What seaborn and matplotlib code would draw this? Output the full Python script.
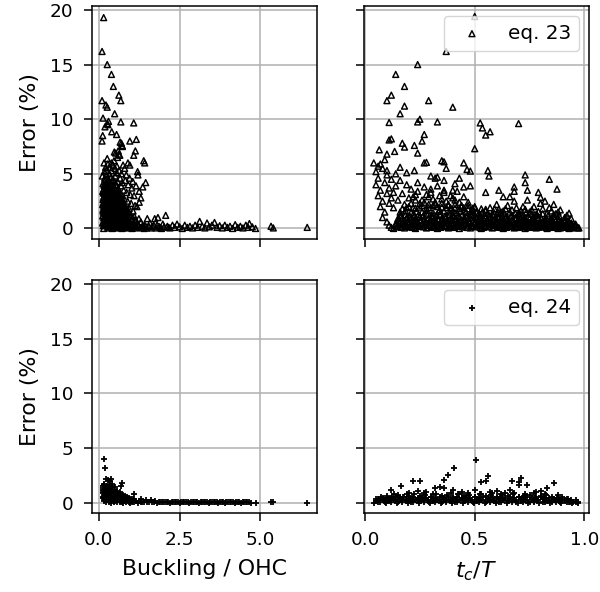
import matplotlib
matplotlib.use("Agg")
import matplotlib.pyplot as plt
import pandas as pd
import seaborn as sns

# Error of eq. 23 vs Buckling / OHC  (x, error %) - outliers and tail
buckling_eq23 = [
    (0.15, 19.3), (0.10, 16.2), (0.26, 15.0), (0.39, 14.1), (0.45, 13.0), (0.62, 12.2),
    (0.68, 11.7), (0.10, 11.7), (0.22, 11.3), (0.26, 11.1), (0.49, 10.5), (0.13, 10.1),
    (0.30, 9.8), (0.28, 9.5), (0.26, 9.6), (0.19, 9.3), (0.68, 9.75), (1.08, 9.66),
    (0.12, 8.5), (0.10, 8.0), (0.40, 8.85), (0.55, 8.6), (0.66, 7.9), (0.70, 7.8),
    (0.72, 7.6), (0.73, 7.5), (0.96, 8.0), (1.16, 8.15), (1.13, 7.1), (1.08, 6.7),
    (0.90, 6.0), (0.96, 5.8), (1.39, 6.2), (1.42, 6.0), (0.48, 7.0), (0.52, 6.9),
    (0.60, 7.1), (0.26, 6.4), (0.39, 6.0), (0.23, 5.3), (0.17, 5.2), (1.20, 5.2),
    (1.45, 4.2), (1.36, 3.8), (1.21, 4.9), (0.62, 6.8), (0.65, 6.7), (0.58, 6.5),
    (0.35, 5.6), (0.44, 5.8), (0.50, 5.5), (0.55, 5.1), (0.80, 5.5), (0.85, 4.9),
    (0.95, 4.6), (1.05, 4.3), (1.15, 3.9), (1.25, 3.4), (1.30, 2.8), (1.25, 2.4), (1.18, 2.0),
    (0.21, 5.6), (0.28, 5.9), (0.33, 5.0), (0.39, 5.3), (0.47, 6.2), (0.56, 5.7),
    (0.63, 5.3), (0.70, 5.0), (0.75, 5.8), (0.16, 6.0),
    (1.35, 0.1), (1.42, 0.3), (1.48, 0.05), (1.55, 0.2), (1.62, 0.05), (1.70, 0.3),
    (1.77, 0.05), (1.86, 0.2), (1.94, 0.0), (2.02, 0.15), (2.16, 0.1),
    (1.50, 0.9), (1.58, 0.5), (1.66, 0.2), (1.73, 0.9), (1.80, 0.3), (1.83, 1.0),
    (1.90, 0.1), (1.98, 0.4), (2.07, 1.2), (2.12, 0.2), (2.20, 0.05), (2.28, 0.3),
    (2.35, 0.1), (2.42, 0.4), (2.50, 0.15), (2.58, 0.0), (2.66, 0.3), (2.74, 0.1),
    (2.82, 0.2), (2.90, 0.05), (2.98, 0.3), (3.06, 0.1), (3.12, 0.65), (3.20, 0.2),
    (3.28, 0.05), (3.35, 0.5), (3.42, 0.15), (3.50, 0.3), (3.58, 0.55), (3.66, 0.1),
    (3.74, 0.25), (3.82, 0.05), (3.90, 0.3), (3.98, 0.1), (4.06, 0.2), (4.14, 0.0),
    (4.22, 0.35), (4.30, 0.1), (4.38, 0.2), (4.46, 0.05), (4.55, 0.3), (4.62, 0.1),
    (4.66, 0.45), (4.75, 0.15), (4.85, 0.0), (5.33, 0.2), (5.40, 0.05), (6.45, 0.1),
]

# Error of eq. 23 vs Buckling / OHC - dense core below 5 %
buckling_eq23_core = [
    (0.11, 4.8), (0.18, 4.6), (0.24, 4.9), (0.31, 4.4), (0.37, 4.7), (0.44, 4.5),
    (0.51, 4.8), (0.58, 4.3), (0.66, 4.6), (0.73, 4.2), (0.82, 4.4), (0.91, 4.0), (1.02, 3.7),
    (0.13, 4.1), (0.20, 3.9), (0.27, 4.2), (0.34, 3.8), (0.41, 4.0), (0.47, 3.7),
    (0.54, 4.0), (0.61, 3.6), (0.69, 3.9), (0.77, 3.5), (0.86, 3.3), (0.97, 3.1), (1.09, 3.0),
    (0.12, 3.4), (0.17, 3.2), (0.23, 3.5), (0.29, 3.1), (0.35, 3.4), (0.40, 3.0),
    (0.46, 3.3), (0.52, 2.9), (0.57, 3.2), (0.63, 2.8), (0.71, 3.0), (0.79, 2.7),
    (0.89, 2.5), (1.00, 2.3), (1.12, 2.1),
    (0.14, 2.8), (0.19, 2.6), (0.25, 2.9), (0.31, 2.5), (0.36, 2.8), (0.42, 2.4),
    (0.48, 2.7), (0.53, 2.3), (0.59, 2.6), (0.66, 2.2), (0.74, 2.4), (0.83, 2.0),
    (0.94, 1.8), (1.06, 1.6),
    (0.12, 2.2), (0.17, 2.0), (0.22, 2.3), (0.28, 1.9), (0.33, 2.1), (0.39, 1.8),
    (0.44, 2.0), (0.50, 1.7), (0.56, 1.9), (0.62, 1.6), (0.69, 1.8), (0.77, 1.5),
    (0.86, 1.4), (0.98, 1.2), (1.10, 1.1), (1.24, 0.9),
    (0.13, 1.6), (0.18, 1.4), (0.24, 1.7), (0.30, 1.3), (0.35, 1.5), (0.41, 1.2),
    (0.47, 1.4), (0.52, 1.1), (0.58, 1.3), (0.64, 1.0), (0.71, 1.2), (0.80, 0.9),
    (0.90, 1.0), (1.02, 0.8), (1.16, 0.7), (1.30, 0.6),
    (0.15, 1.0), (0.20, 0.8), (0.26, 1.1), (0.32, 0.7), (0.38, 0.9), (0.44, 0.6),
    (0.50, 0.8), (0.55, 0.5), (0.61, 0.7), (0.68, 0.5), (0.75, 0.6), (0.84, 0.4),
    (0.94, 0.5), (1.06, 0.3), (1.20, 0.4), (1.36, 0.3),
    (0.12, 0.5), (0.17, 0.3), (0.23, 0.4), (0.29, 0.2), (0.34, 0.3), (0.40, 0.1),
    (0.46, 0.2), (0.53, 0.1), (0.60, 0.2), (0.67, 0.1), (0.74, 0.2), (0.82, 0.1),
    (0.90, 0.2), (0.99, 0.1), (1.10, 0.2), (1.28, 0.1), (1.45, 0.2),
    (0.15, 0.0), (0.28, 0.05), (0.42, 0.0), (0.57, 0.05), (0.72, 0.0), (0.88, 0.05),
    (1.03, 0.0), (1.18, 0.05), (1.40, 0.0),
    (0.14, 0.25), (0.21, 0.3), (0.27, 0.22), (0.35, 0.28), (0.43, 0.25), (0.49, 0.32),
    (0.57, 0.24), (0.65, 0.3), (0.71, 0.22), (0.79, 0.28), (0.87, 0.25), (0.95, 0.3),
    (1.04, 0.22), (1.13, 0.27), (1.22, 0.2),
    (0.13, 0.55), (0.19, 0.62), (0.28, 0.5), (0.36, 0.58), (0.42, 0.52), (0.51, 0.6),
    (0.58, 0.5), (0.64, 0.57), (0.73, 0.52), (0.81, 0.6), (0.89, 0.5), (0.97, 0.56), (1.08, 0.5),
    (0.16, 0.85), (0.23, 0.9), (0.29, 0.82), (0.37, 0.88), (0.45, 0.8), (0.53, 0.9),
    (0.59, 0.84), (0.67, 0.86), (0.74, 0.8), (0.83, 0.88), (0.92, 0.82), (1.01, 0.86), (1.12, 0.8),
    (0.12, 1.15), (0.21, 1.2), (0.28, 1.12), (0.34, 1.18), (0.43, 1.1), (0.49, 1.2),
    (0.57, 1.14), (0.66, 1.18), (0.73, 1.1), (0.81, 1.16), (0.89, 1.12), (1.00, 1.15),
    (0.15, 1.45), (0.22, 1.5), (0.27, 1.42), (0.38, 1.48), (0.45, 1.4), (0.51, 1.5),
    (0.60, 1.44), (0.68, 1.46), (0.75, 1.4), (0.84, 1.48), (0.93, 1.42),
    (0.13, 1.75), (0.20, 1.8), (0.31, 1.72), (0.37, 1.78), (0.46, 1.7), (0.53, 1.8),
    (0.59, 1.74), (0.66, 1.78), (0.74, 1.7), (0.82, 1.76), (0.90, 1.72),
    (0.15, 2.05), (0.24, 2.1), (0.30, 2.02), (0.36, 2.08), (0.42, 2.0), (0.51, 2.1),
    (0.58, 2.04), (0.64, 2.06), (0.72, 2.0), (0.80, 2.08),
    (0.14, 2.35), (0.20, 2.4), (0.27, 2.32), (0.35, 2.38), (0.41, 2.3), (0.47, 2.4),
    (0.55, 2.34), (0.62, 2.36), (0.70, 2.3), (0.78, 2.38),
    (0.13, 2.65), (0.21, 2.7), (0.28, 2.62), (0.34, 2.68), (0.40, 2.6), (0.46, 2.7),
    (0.53, 2.64), (0.61, 2.66), (0.69, 2.6),
    (0.16, 2.95), (0.23, 3.0), (0.29, 2.92), (0.35, 2.98), (0.43, 2.9), (0.49, 3.0),
    (0.55, 2.94), (0.66, 2.96),
    (0.14, 3.25), (0.21, 3.3), (0.27, 3.22), (0.33, 3.28), (0.38, 3.2), (0.45, 3.3),
    (0.52, 3.24), (0.60, 3.26), (0.68, 3.2),
    (0.15, 3.6), (0.22, 3.65), (0.28, 3.55), (0.36, 3.62), (0.43, 3.58), (0.50, 3.65), (0.58, 3.55),
    (0.16, 3.95), (0.24, 4.0), (0.31, 3.92), (0.38, 3.98), (0.46, 3.9), (0.53, 4.0),
    (0.17, 4.3), (0.26, 4.35), (0.34, 4.28), (0.41, 4.32), (0.49, 4.25),
]

# Error of eq. 23 vs t_c / T - scattered points
tc_eq23 = [
    (0.50, 19.4), (0.37, 16.2), (0.24, 15.0), (0.14, 14.1), (0.18, 13.0), (0.12, 12.2),
    (0.10, 11.7), (0.18, 11.2), (0.29, 11.7), (0.40, 11.1), (0.16, 10.5), (0.11, 9.7),
    (0.24, 9.75), (0.25, 10.0), (0.33, 9.75), (0.525, 9.66), (0.535, 9.2), (0.55, 8.55),
    (0.57, 8.85), (0.70, 9.6), (0.50, 7.3), (0.27, 8.6), (0.26, 8.0), (0.11, 8.1),
    (0.12, 8.2), (0.17, 7.8), (0.18, 7.45), (0.225, 7.6), (0.24, 6.9), (0.065, 7.2),
    (0.10, 6.8), (0.135, 7.05), (0.04, 6.0), (0.07, 5.9), (0.09, 6.3), (0.27, 6.0),
    (0.28, 6.05), (0.35, 6.2), (0.36, 6.1), (0.37, 5.5), (0.45, 6.0), (0.465, 5.4),
    (0.48, 5.25), (0.56, 5.3), (0.565, 4.8), (0.73, 4.9), (0.73, 4.2), (0.74, 3.5),
    (0.84, 4.5), (0.875, 3.6), (0.79, 3.3), (0.80, 2.85), (0.86, 2.2), (0.68, 3.8),
    (0.68, 3.4), (0.63, 2.9), (0.61, 3.5), (0.55, 3.3), (0.225, 5.3), (0.16, 5.6),
    (0.19, 5.1), (0.30, 4.8), (0.32, 4.6), (0.33, 4.7), (0.36, 4.4), (0.43, 4.6),
    (0.41, 4.1), (0.45, 3.8), (0.48, 3.9), (0.40, 3.5),
    (0.05, 5.2), (0.06, 4.6), (0.05, 4.0), (0.07, 3.5), (0.06, 3.0), (0.08, 2.5),
    (0.07, 2.0), (0.09, 1.5), (0.08, 1.0), (0.10, 0.6), (0.11, 0.3), (0.12, 0.1),
    (0.08, 5.5), (0.10, 4.9), (0.09, 4.2), (0.11, 3.7), (0.10, 3.2), (0.12, 2.8),
    (0.11, 2.3), (0.13, 1.9), (0.12, 4.5), (0.14, 3.9), (0.13, 3.3), (0.15, 2.6),
    (0.06, 5.7), (0.10, 5.3), (0.14, 5.0),
    (0.16, 4.4), (0.19, 4.0), (0.21, 3.6), (0.24, 4.2), (0.27, 3.8), (0.30, 3.3),
    (0.33, 3.9), (0.36, 3.5), (0.39, 3.0), (0.42, 3.4), (0.45, 2.9), (0.17, 3.2),
    (0.20, 2.8), (0.23, 3.1), (0.26, 2.6), (0.29, 2.9), (0.32, 2.4), (0.35, 2.7),
    (0.38, 2.2), (0.41, 2.6), (0.44, 2.1), (0.47, 2.4), (0.50, 2.0), (0.18, 2.2),
    (0.22, 1.9), (0.25, 2.3), (0.28, 1.8), (0.31, 2.1), (0.34, 1.7), (0.37, 1.9),
    (0.40, 1.6), (0.43, 1.8), (0.46, 1.5), (0.49, 1.7), (0.52, 1.4), (0.55, 1.6), (0.58, 1.3),
    (0.60, 2.2), (0.64, 1.8), (0.68, 2.5), (0.72, 2.0), (0.76, 1.7), (0.80, 2.3),
    (0.84, 1.9), (0.88, 1.5), (0.92, 1.2), (0.62, 1.5), (0.70, 1.4), (0.78, 1.3),
    (0.86, 1.1), (0.94, 0.9), (0.66, 2.9), (0.74, 2.6), (0.82, 2.5),
    (0.19, 1.9), (0.21, 2.3), (0.23, 2.6), (0.25, 1.95), (0.27, 2.4), (0.29, 2.2),
    (0.31, 2.7), (0.33, 2.0), (0.35, 2.3), (0.37, 2.5), (0.39, 1.9), (0.41, 2.2),
    (0.43, 2.4), (0.45, 1.9), (0.47, 2.1), (0.49, 1.85), (0.53, 1.8), (0.57, 1.9),
    (0.61, 1.75), (0.65, 2.1), (0.69, 1.9), (0.73, 1.75), (0.77, 2.0), (0.81, 1.8),
    (0.85, 1.6), (0.89, 1.7), (0.93, 1.4), (0.22, 2.9), (0.28, 3.1), (0.34, 3.0),
    (0.40, 2.8), (0.36, 3.3), (0.30, 3.6), (0.24, 3.4),
    (0.17, 1.8), (0.20, 2.0), (0.23, 1.85), (0.26, 2.1), (0.29, 1.9), (0.32, 2.2),
    (0.35, 1.95), (0.38, 2.1), (0.41, 1.85), (0.44, 2.0), (0.47, 1.8), (0.50, 1.9),
    (0.55, 1.75), (0.59, 1.8), (0.63, 1.6), (0.67, 1.7), (0.71, 1.6), (0.75, 1.5),
    (0.79, 1.55), (0.83, 1.4), (0.87, 1.35), (0.91, 1.0),
]

# Error of eq. 23 vs t_c / T - dense band near zero
tc_eq23_band = [
    (0.16, 1.2), (0.19, 1.0), (0.22, 1.3), (0.25, 1.1), (0.28, 1.4), (0.31, 1.2),
    (0.34, 1.3), (0.37, 1.1), (0.40, 1.2), (0.43, 1.0), (0.46, 1.1), (0.49, 1.3),
    (0.52, 1.0), (0.55, 1.2), (0.58, 0.9), (0.61, 1.1), (0.64, 1.0), (0.67, 1.2),
    (0.70, 0.9), (0.73, 1.0), (0.76, 0.8), (0.79, 1.0), (0.82, 0.8), (0.85, 0.9),
    (0.88, 0.7), (0.91, 0.8), (0.94, 0.5), (0.96, 0.4),
    (0.15, 0.7), (0.175, 0.5), (0.20, 0.8), (0.225, 0.6), (0.25, 0.7), (0.275, 0.5),
    (0.30, 0.8), (0.325, 0.6), (0.35, 0.7), (0.375, 0.5), (0.40, 0.8), (0.425, 0.6),
    (0.45, 0.7), (0.475, 0.5), (0.50, 0.6), (0.525, 0.7), (0.55, 0.5), (0.575, 0.6),
    (0.60, 0.5), (0.625, 0.7), (0.65, 0.5), (0.675, 0.6), (0.70, 0.4), (0.725, 0.6),
    (0.75, 0.5), (0.775, 0.4), (0.80, 0.5), (0.825, 0.4), (0.85, 0.5), (0.875, 0.3),
    (0.90, 0.4), (0.925, 0.3), (0.95, 0.2), (0.965, 0.1),
    (0.14, 0.3), (0.165, 0.2), (0.19, 0.3), (0.215, 0.1), (0.24, 0.3), (0.265, 0.2),
    (0.29, 0.3), (0.315, 0.1), (0.34, 0.2), (0.365, 0.3), (0.39, 0.1), (0.415, 0.2),
    (0.44, 0.3), (0.465, 0.1), (0.49, 0.2), (0.515, 0.3), (0.54, 0.1), (0.565, 0.2),
    (0.59, 0.3), (0.615, 0.1), (0.64, 0.2), (0.665, 0.3), (0.69, 0.1), (0.715, 0.2),
    (0.74, 0.1), (0.765, 0.2), (0.79, 0.1), (0.815, 0.2), (0.84, 0.1), (0.865, 0.15),
    (0.89, 0.05), (0.915, 0.15), (0.94, 0.05), (0.97, 0.05),
    (0.13, 0.0), (0.18, 0.05), (0.23, 0.0), (0.28, 0.05), (0.33, 0.0), (0.38, 0.05),
    (0.43, 0.0), (0.48, 0.05), (0.53, 0.0), (0.58, 0.05), (0.63, 0.0), (0.68, 0.05),
    (0.73, 0.0), (0.78, 0.05), (0.83, 0.0), (0.88, 0.0), (0.93, 0.0),
    (0.14, 0.45), (0.16, 0.55), (0.18, 0.4), (0.20, 0.5), (0.22, 0.45), (0.24, 0.6),
    (0.26, 0.4), (0.28, 0.5), (0.30, 0.55), (0.32, 0.45), (0.34, 0.4), (0.36, 0.6),
    (0.38, 0.5), (0.40, 0.45), (0.42, 0.55), (0.44, 0.4), (0.46, 0.5), (0.48, 0.6),
    (0.50, 0.45), (0.52, 0.4), (0.54, 0.55), (0.56, 0.5), (0.58, 0.45), (0.60, 0.4),
    (0.62, 0.55), (0.64, 0.45), (0.66, 0.5), (0.68, 0.4), (0.70, 0.55), (0.72, 0.45),
    (0.74, 0.4), (0.76, 0.5), (0.78, 0.45), (0.80, 0.35), (0.82, 0.5), (0.84, 0.4),
    (0.86, 0.45), (0.88, 0.35), (0.90, 0.4), (0.92, 0.3), (0.94, 0.35), (0.96, 0.25),
    (0.15, 0.9), (0.17, 1.0), (0.19, 0.85), (0.21, 0.95), (0.23, 0.9), (0.25, 1.05),
    (0.27, 0.85), (0.29, 0.95), (0.31, 1.0), (0.33, 0.9), (0.35, 0.85), (0.37, 1.0),
    (0.39, 0.95), (0.41, 0.9), (0.43, 1.05), (0.45, 0.85), (0.47, 0.95), (0.49, 1.0),
    (0.51, 0.9), (0.53, 0.85), (0.55, 1.0), (0.57, 0.9), (0.59, 0.8), (0.61, 0.95),
    (0.63, 0.85), (0.65, 0.9), (0.67, 0.8), (0.69, 0.95), (0.71, 0.85), (0.73, 0.8),
    (0.75, 0.9), (0.77, 0.75), (0.79, 0.85), (0.81, 0.7), (0.83, 0.8), (0.85, 0.7),
    (0.87, 0.75), (0.89, 0.6), (0.91, 0.65), (0.93, 0.55),
    (0.16, 1.5), (0.185, 1.6), (0.21, 1.45), (0.235, 1.55), (0.26, 1.5), (0.285, 1.65),
    (0.31, 1.45), (0.335, 1.55), (0.36, 1.6), (0.385, 1.5), (0.41, 1.45), (0.435, 1.6),
    (0.46, 1.5), (0.485, 1.55), (0.51, 1.45), (0.535, 1.5), (0.56, 1.4), (0.585, 1.55),
    (0.61, 1.45), (0.635, 1.35), (0.66, 1.5), (0.685, 1.4), (0.71, 1.3), (0.735, 1.45),
    (0.76, 1.35), (0.785, 1.25), (0.81, 1.35), (0.835, 1.2), (0.86, 1.3), (0.885, 1.15),
    (0.145, 0.15), (0.165, 0.1), (0.185, 0.2), (0.205, 0.15), (0.225, 0.1), (0.245, 0.2),
    (0.265, 0.15), (0.285, 0.1), (0.305, 0.2), (0.325, 0.15), (0.345, 0.1), (0.365, 0.2),
    (0.385, 0.15), (0.405, 0.1), (0.425, 0.2), (0.445, 0.15), (0.465, 0.1), (0.485, 0.2),
    (0.505, 0.15), (0.525, 0.1), (0.545, 0.2), (0.565, 0.15), (0.585, 0.1), (0.605, 0.2),
    (0.625, 0.15), (0.645, 0.1), (0.665, 0.2), (0.685, 0.15), (0.705, 0.1), (0.725, 0.2),
    (0.745, 0.15), (0.765, 0.1), (0.785, 0.2), (0.805, 0.15), (0.825, 0.1), (0.845, 0.15),
    (0.865, 0.1), (0.885, 0.15), (0.905, 0.1), (0.925, 0.1), (0.945, 0.1), (0.975, 0.05),
    (0.15, 0.3), (0.17, 0.35), (0.19, 0.25), (0.21, 0.35), (0.23, 0.3), (0.25, 0.25),
    (0.27, 0.35), (0.29, 0.3), (0.31, 0.25), (0.33, 0.35), (0.35, 0.3), (0.37, 0.25),
    (0.39, 0.35), (0.41, 0.3), (0.43, 0.25), (0.45, 0.35), (0.47, 0.3), (0.49, 0.25),
    (0.51, 0.35), (0.53, 0.3), (0.55, 0.25), (0.57, 0.35), (0.59, 0.3), (0.61, 0.25),
    (0.63, 0.35), (0.65, 0.3), (0.67, 0.25), (0.69, 0.35), (0.71, 0.3), (0.73, 0.25),
    (0.75, 0.3), (0.77, 0.25), (0.79, 0.3), (0.81, 0.25), (0.83, 0.3), (0.85, 0.25),
    (0.87, 0.2), (0.89, 0.25), (0.91, 0.2), (0.93, 0.2), (0.95, 0.15), (0.97, 0.1),
    (0.155, 0.7), (0.175, 0.75), (0.195, 0.65), (0.215, 0.75), (0.235, 0.7), (0.255, 0.8),
    (0.275, 0.65), (0.295, 0.75), (0.315, 0.7), (0.335, 0.8), (0.355, 0.65), (0.375, 0.75),
    (0.395, 0.7), (0.415, 0.8), (0.435, 0.65), (0.455, 0.75), (0.475, 0.7), (0.495, 0.8),
    (0.515, 0.65), (0.535, 0.75), (0.555, 0.7), (0.575, 0.75), (0.595, 0.65), (0.615, 0.7),
    (0.635, 0.6), (0.655, 0.7), (0.675, 0.65), (0.695, 0.7), (0.715, 0.6), (0.735, 0.65),
    (0.755, 0.6), (0.775, 0.65), (0.795, 0.55), (0.815, 0.6), (0.835, 0.55), (0.855, 0.6),
    (0.875, 0.5), (0.895, 0.5), (0.915, 0.45), (0.935, 0.4), (0.955, 0.3),
    (0.165, 1.15), (0.185, 1.25), (0.205, 1.1), (0.225, 1.2), (0.245, 1.3), (0.265, 1.15),
    (0.285, 1.25), (0.305, 1.1), (0.325, 1.2), (0.345, 1.3), (0.365, 1.15), (0.385, 1.25),
    (0.405, 1.1), (0.425, 1.2), (0.445, 1.3), (0.465, 1.15), (0.485, 1.2), (0.505, 1.1),
    (0.525, 1.25), (0.545, 1.15), (0.565, 1.1), (0.585, 1.2), (0.605, 1.05), (0.625, 1.15),
    (0.645, 1.05), (0.665, 1.1), (0.685, 1.0), (0.705, 1.1), (0.725, 0.95), (0.745, 1.05),
    (0.765, 0.95), (0.785, 1.0), (0.805, 0.9), (0.825, 0.95), (0.845, 0.85), (0.865, 0.9),
    (0.885, 0.8), (0.905, 0.75), (0.925, 0.7),
]

# Error of eq. 24 vs Buckling / OHC
buckling_eq24 = [
    (0.145, 3.97), (0.19, 3.2), (0.23, 2.2), (0.28, 2.1), (0.34, 2.0), (0.38, 2.2),
    (0.72, 1.8), (0.70, 1.5), (1.10, 0.8), (0.15, 1.7), (0.12, 1.5), (0.42, 1.7),
    (0.14, 1.3), (0.20, 1.2), (0.27, 1.4), (0.33, 1.3), (0.40, 1.1), (0.47, 1.2), (0.55, 1.0),
    (0.13, 1.0), (0.19, 0.9), (0.25, 1.0), (0.31, 0.8), (0.37, 0.9), (0.44, 0.8),
    (0.51, 0.9), (0.58, 0.7), (0.66, 0.8), (0.75, 0.7),
    (0.15, 0.7), (0.21, 0.6), (0.27, 0.7), (0.33, 0.5), (0.39, 0.6), (0.46, 0.5),
    (0.53, 0.6), (0.60, 0.4), (0.68, 0.5), (0.77, 0.4), (0.88, 0.5), (1.00, 0.3),
    (0.14, 0.4), (0.20, 0.3), (0.26, 0.4), (0.32, 0.2), (0.38, 0.3), (0.45, 0.2),
    (0.52, 0.3), (0.60, 0.2), (0.68, 0.3), (0.77, 0.2), (0.87, 0.25), (0.98, 0.15),
    (1.10, 0.2), (1.25, 0.15),
    (0.16, 0.15), (0.22, 0.05), (0.30, 0.1), (0.38, 0.0), (0.46, 0.1), (0.55, 0.05),
    (0.64, 0.1), (0.74, 0.0), (0.85, 0.05), (0.96, 0.0), (1.08, 0.05), (1.20, 0.0),
    (1.35, 0.1), (1.50, 0.05), (1.65, 0.1), (1.80, 0.0),
    (0.16, 1.6), (0.24, 1.55), (0.31, 1.65), (0.40, 1.5), (0.50, 1.45),
    (0.12, 1.15), (0.17, 1.2), (0.23, 1.1), (0.29, 1.15), (0.35, 1.05), (0.42, 1.1),
    (0.49, 1.0), (0.57, 1.05), (0.64, 0.95),
    (0.14, 0.85), (0.18, 0.8), (0.23, 0.9), (0.28, 0.8), (0.34, 0.85), (0.40, 0.75),
    (0.46, 0.8), (0.53, 0.7), (0.61, 0.75), (0.70, 0.65), (0.80, 0.6),
    (0.12, 0.55), (0.17, 0.5), (0.23, 0.6), (0.29, 0.5), (0.35, 0.55), (0.41, 0.45),
    (0.48, 0.5), (0.55, 0.45), (0.63, 0.4), (0.72, 0.45), (0.82, 0.35), (0.93, 0.4), (1.05, 0.3),
    (0.15, 0.3), (0.21, 0.25), (0.28, 0.3), (0.35, 0.2), (0.42, 0.25), (0.49, 0.15),
    (0.56, 0.2), (0.64, 0.15), (0.72, 0.1), (0.82, 0.15), (0.93, 0.1), (1.04, 0.1),
    (1.16, 0.12), (1.30, 0.08),
    (1.30, 0.3), (1.45, 0.2), (1.60, 0.25), (1.75, 0.15), (1.90, 0.1), (2.00, 0.05),
    (2.10, 0.1), (2.20, 0.0), (2.30, 0.05), (2.40, 0.1), (2.50, 0.0), (2.60, 0.05),
    (2.70, 0.1), (2.80, 0.0), (2.90, 0.05), (3.00, 0.1), (3.10, 0.0), (3.20, 0.05),
    (3.30, 0.1), (3.40, 0.0), (3.50, 0.05), (3.60, 0.1), (3.70, 0.0), (3.80, 0.05),
    (3.90, 0.0), (4.00, 0.05), (4.10, 0.1), (4.20, 0.0), (4.30, 0.05), (4.40, 0.0),
    (4.50, 0.05), (4.60, 0.1), (4.70, 0.0), (4.88, 0.0), (5.33, 0.05), (5.40, 0.02),
    (6.45, 0.0),
    (1.40, 0.05), (1.55, 0.1), (1.70, 0.05), (1.85, 0.08), (1.95, 0.02), (2.05, 0.06),
    (2.15, 0.03), (2.25, 0.07), (2.35, 0.02), (2.45, 0.05), (2.55, 0.08), (2.65, 0.02),
    (2.75, 0.05), (2.85, 0.07), (2.95, 0.02), (3.05, 0.05), (3.15, 0.08), (3.25, 0.02),
    (3.35, 0.05), (3.45, 0.1), (3.55, 0.02), (3.65, 0.06), (3.75, 0.08), (3.85, 0.03),
    (3.95, 0.06), (4.05, 0.02), (4.15, 0.07), (4.25, 0.04), (4.35, 0.06), (4.45, 0.02),
    (4.55, 0.08), (4.65, 0.05),
]

# Error of eq. 24 vs t_c / T
tc_eq24 = [
    (0.505, 3.9), (0.405, 3.2), (0.38, 2.5), (0.36, 2.1), (0.22, 2.0), (0.25, 2.0),
    (0.56, 2.4), (0.53, 1.9), (0.55, 2.0), (0.67, 2.0), (0.71, 2.3), (0.70, 1.9),
    (0.70, 1.6), (0.74, 1.6), (0.86, 1.8), (0.83, 1.3), (0.165, 1.5), (0.12, 1.2),
    (0.32, 1.3), (0.34, 1.4), (0.36, 1.3), (0.50, 1.2), (0.60, 1.1), (0.80, 1.1),
    (0.28, 1.0), (0.44, 1.0), (0.64, 0.9), (0.20, 0.9),
    (0.13, 0.8), (0.19, 0.75), (0.27, 0.9), (0.31, 0.8), (0.39, 0.85), (0.43, 0.75),
    (0.47, 0.9), (0.53, 0.8), (0.58, 0.85), (0.62, 0.75), (0.68, 0.9), (0.73, 0.8),
    (0.77, 0.85), (0.82, 0.75), (0.88, 0.7), (0.24, 1.1), (0.40, 1.2), (0.57, 1.0),
    (0.66, 1.15), (0.78, 1.0),
    (0.05, 0.3), (0.075, 0.5), (0.10, 0.6), (0.125, 0.5), (0.15, 0.7), (0.175, 0.5),
    (0.20, 0.6), (0.225, 0.8), (0.25, 0.6), (0.275, 0.7), (0.30, 0.5), (0.325, 0.8),
    (0.35, 0.6), (0.375, 0.7), (0.40, 0.5), (0.425, 0.8), (0.45, 0.6), (0.475, 0.7),
    (0.50, 0.5), (0.525, 0.8), (0.55, 0.6), (0.575, 0.7), (0.60, 0.5), (0.625, 0.7),
    (0.65, 0.6), (0.675, 0.8), (0.70, 0.5), (0.725, 0.6), (0.75, 0.7), (0.775, 0.5),
    (0.80, 0.6), (0.825, 0.7), (0.85, 0.5), (0.875, 0.4), (0.90, 0.5), (0.925, 0.3),
    (0.06, 0.1), (0.085, 0.2), (0.11, 0.3), (0.135, 0.2), (0.16, 0.35), (0.185, 0.2),
    (0.21, 0.3), (0.235, 0.25), (0.26, 0.35), (0.285, 0.2), (0.31, 0.3), (0.335, 0.25),
    (0.36, 0.35), (0.385, 0.2), (0.41, 0.3), (0.435, 0.25), (0.46, 0.35), (0.485, 0.2),
    (0.51, 0.3), (0.535, 0.25), (0.56, 0.35), (0.585, 0.2), (0.61, 0.3), (0.635, 0.25),
    (0.66, 0.35), (0.685, 0.2), (0.71, 0.3), (0.735, 0.25), (0.76, 0.3), (0.785, 0.2),
    (0.81, 0.3), (0.835, 0.2), (0.86, 0.25), (0.885, 0.15), (0.91, 0.2), (0.935, 0.1),
    (0.96, 0.1),
    (0.04, 0.0), (0.07, 0.05), (0.095, 0.0), (0.12, 0.05), (0.145, 0.0), (0.17, 0.05),
    (0.195, 0.0), (0.22, 0.05), (0.245, 0.0), (0.27, 0.05), (0.295, 0.0), (0.32, 0.05),
    (0.345, 0.0), (0.37, 0.05), (0.395, 0.0), (0.42, 0.05), (0.445, 0.0), (0.47, 0.05),
    (0.495, 0.0), (0.52, 0.05), (0.545, 0.0), (0.57, 0.05), (0.595, 0.0), (0.62, 0.05),
    (0.645, 0.0), (0.67, 0.05), (0.695, 0.0), (0.72, 0.05), (0.745, 0.0), (0.77, 0.05),
    (0.795, 0.0), (0.82, 0.05), (0.845, 0.0), (0.87, 0.05), (0.895, 0.0), (0.92, 0.05),
    (0.945, 0.0), (0.97, 0.0),
    (0.05, 0.15), (0.07, 0.2), (0.09, 0.1), (0.11, 0.15), (0.13, 0.25), (0.15, 0.1),
    (0.17, 0.2), (0.19, 0.15), (0.21, 0.1), (0.23, 0.2), (0.25, 0.15), (0.27, 0.25),
    (0.29, 0.1), (0.31, 0.15), (0.33, 0.2), (0.35, 0.1), (0.37, 0.25), (0.39, 0.15),
    (0.41, 0.1), (0.43, 0.2), (0.45, 0.15), (0.47, 0.25), (0.49, 0.1), (0.51, 0.15),
    (0.53, 0.2), (0.55, 0.1), (0.57, 0.25), (0.59, 0.15), (0.61, 0.1), (0.63, 0.2),
    (0.65, 0.15), (0.67, 0.25), (0.69, 0.1), (0.71, 0.15), (0.73, 0.2), (0.75, 0.1),
    (0.77, 0.15), (0.79, 0.2), (0.81, 0.1), (0.83, 0.15), (0.85, 0.1), (0.87, 0.2),
    (0.89, 0.1), (0.91, 0.15), (0.93, 0.05), (0.95, 0.1), (0.97, 0.05),
    (0.06, 0.35), (0.08, 0.4), (0.10, 0.45), (0.12, 0.4), (0.14, 0.5), (0.16, 0.45),
    (0.18, 0.55), (0.20, 0.45), (0.22, 0.5), (0.24, 0.4), (0.26, 0.55), (0.28, 0.45),
    (0.30, 0.5), (0.32, 0.4), (0.34, 0.55), (0.36, 0.45), (0.38, 0.5), (0.40, 0.4),
    (0.42, 0.55), (0.44, 0.45), (0.46, 0.5), (0.48, 0.4), (0.50, 0.55), (0.52, 0.45),
    (0.54, 0.5), (0.56, 0.4), (0.58, 0.55), (0.60, 0.45), (0.62, 0.5), (0.64, 0.4),
    (0.66, 0.55), (0.68, 0.45), (0.70, 0.5), (0.72, 0.4), (0.74, 0.5), (0.76, 0.45),
    (0.78, 0.4), (0.80, 0.5), (0.82, 0.4), (0.84, 0.45), (0.86, 0.35), (0.88, 0.4),
    (0.90, 0.3), (0.92, 0.35), (0.94, 0.25), (0.96, 0.2),
]

plt.rcParams['font.family'] = ['DejaVu Sans']
plt.rcParams['axes.linewidth'] = 1.1
plt.rcParams['xtick.major.width'] = 1.1
plt.rcParams['ytick.major.width'] = 1.1
plt.rcParams['xtick.major.size'] = 6
plt.rcParams['ytick.major.size'] = 6
plt.rcParams['xtick.major.pad'] = 7
plt.rcParams['ytick.major.pad'] = 7
plt.rcParams['xtick.labelsize'] = 13.3
plt.rcParams['ytick.labelsize'] = 13.3
plt.rcParams['axes.labelsize'] = 15.8
plt.rcParams['axes.labelpad'] = 7

fig, axes = plt.subplots(2, 2, figsize=(6, 5.92), sharex='col', sharey=True)
fig.subplots_adjust(left=0.153, right=0.982, top=0.990, bottom=0.133,
                    wspace=0.204, hspace=0.176)

panels = [
    (axes[0, 0], buckling_eq23 + buckling_eq23_core, '^', None),
    (axes[0, 1], tc_eq23 + tc_eq23_band, '^', 'eq. 23'),
    (axes[1, 0], buckling_eq24, '+', None),
    (axes[1, 1], tc_eq24, '+', 'eq. 24'),
]

for ax, pts, mk, lab in panels:
    df = pd.DataFrame(pts, columns=['x', 'err'])
    if mk == '^':
        sns.scatterplot(data=df, x='x', y='err', ax=ax, marker='^', s=18,
                        color='black', facecolor='none', edgecolor='black',
                        linewidth=1.05, label=lab, legend=False)
    else:
        sns.scatterplot(data=df, x='x', y='err', ax=ax, marker='+', s=20,
                        color='black', linewidth=1.3, label=lab, legend=False)
    ax.grid(True, color='#b0b0b0', linewidth=1.1)
    ax.set_axisbelow(True)
    ax.set_xlabel('')
    ax.set_ylabel('')
    if lab is not None:
        ax.legend(loc='upper right', fontsize=14.4)

axes[0, 0].set_yticks([0, 5, 10, 15, 20])
axes[0, 0].set_xticks([0.0, 2.5, 5.0])
axes[0, 1].set_xticks([0.0, 0.5, 1.0])
axes[0, 0].set_ylabel('Error (%)')
axes[1, 0].set_ylabel('Error (%)')
axes[1, 0].set_xlabel('Buckling / OHC')
axes[1, 1].set_xlabel('$t_c/T$')

fig.savefig('out.png', dpi=100)
